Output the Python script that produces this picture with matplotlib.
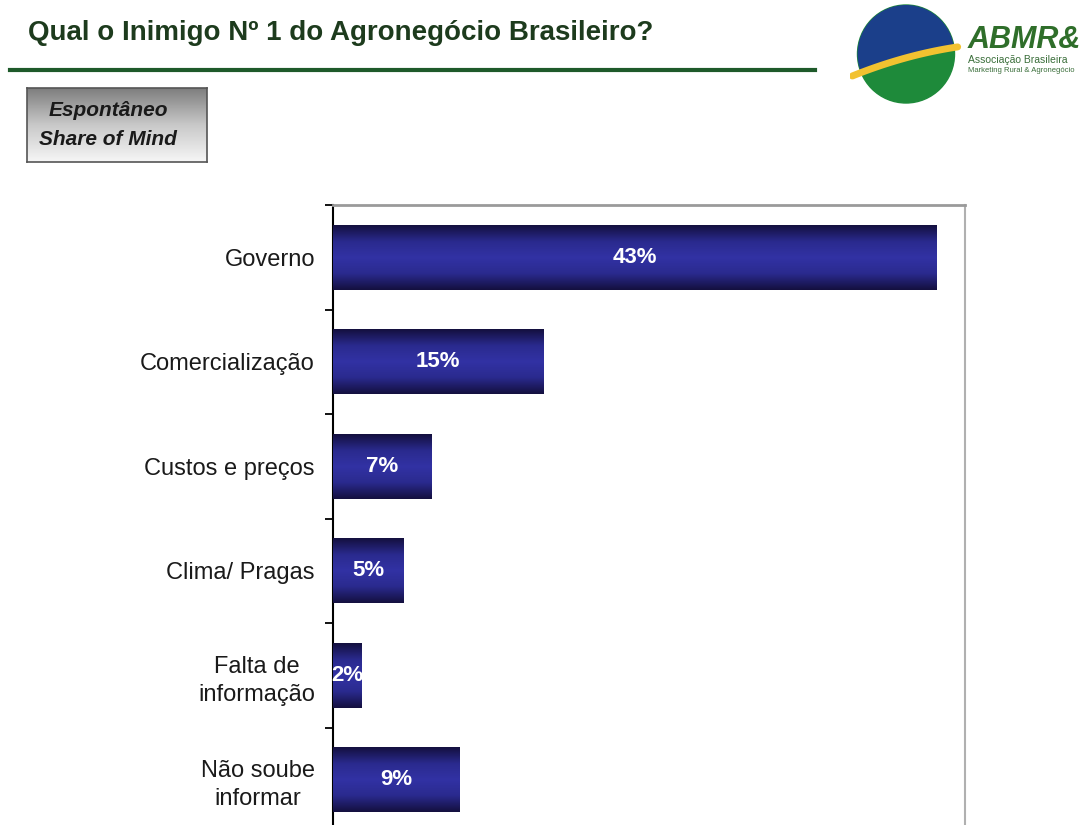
import matplotlib.pyplot as plt
import numpy as np
from matplotlib.patches import Ellipse, Polygon
from matplotlib.colors import LinearSegmentedColormap

plt.rcParams['font.family'] = ['Liberation Sans', 'DejaVu Sans']

categorias = ['Governo', 'Comercialização', 'Custos e preços', 'Clima/ Pragas',
              'Falta de\ninformação', 'Não soube\ninformar']
valores = [43, 15, 7, 5, 2, 9]
rotulos = ['43%', '15%', '7%', '5%', '2%', '9%']

fig = plt.figure(figsize=(10.83, 8.25), dpi=100)
fig.patch.set_facecolor('white')

# titulo e linha verde
fig.text(28/1083, 1-33/825, 'Qual o Inimigo Nº 1 do Agronegócio Brasileiro?',
         fontsize=20, fontweight='bold', color='#1d3b1d', va='center', ha='left')
fig.add_artist(plt.Line2D([10/1083, 815/1083], [1-70/825, 1-70/825],
                          color='#1e5a2a', linewidth=3))

# caixa "Espontâneo"
bx = fig.add_axes([27/1083, 1-162/825, 180/1083, 74/825])
grad = np.linspace(0, 1, 100).reshape(-1, 1)
cm_gray = LinearSegmentedColormap.from_list('g', ['#7c7c7c', '#c8c8c8', '#f6f6f6'])
bx.imshow(grad, aspect='auto', cmap=cm_gray, extent=[0, 1, 0, 1])
bx.set_xlim(0, 1); bx.set_ylim(0, 1)
bx.set_xticks([]); bx.set_yticks([])
for s in bx.spines.values():
    s.set_color('#555555'); s.set_linewidth(1.2)
bx.text(0.45, 0.70, 'Espontâneo', fontsize=15, style='italic', fontweight='bold',
        color='#1a1a1a', va='center', ha='center')
bx.text(0.45, 0.30, 'Share of Mind', fontsize=15, style='italic', fontweight='bold',
        color='#1a1a1a', va='center', ha='center')

# logo (aproximado)
lx = fig.add_axes([850/1083, 1-108/825, 233/1083, 108/825])
lx.set_xlim(850, 1083); lx.set_ylim(108, 0)
lx.axis('off')
circ = Ellipse((906, 54), 97, 98, color='#1e8a3a')
lx.add_patch(circ)
cx = np.linspace(845, 965, 50)
cy = 80 - (cx - 845) * 0.42 + 0.0012 * (cx - 845) ** 2 - 4
azul = Polygon(np.column_stack([np.r_[cx, 965, 845], np.r_[cy, 0, 0]]), color='#1b3f8a')
lx.add_patch(azul)
azul.set_clip_path(circ)
lx.plot(cx[3:47], cy[3:47] + 3, color='#f2c230', lw=5, solid_capstyle='round')
lx.text(968, 40, 'ABMR&', fontsize=22, fontweight='bold', style='italic',
        color='#2f6e2a', va='center', ha='left', clip_on=False)
lx.text(968, 60, 'Associação Brasileira', fontsize=7.5, color='#3a6e3a', va='center')
lx.text(968, 71, 'Marketing Rural & Agronegócio', fontsize=5.5, color='#3a6e3a', va='center')

# grafico
ax = fig.add_axes([333/1083, 1-832/825, 632/1083, 627/825])
y = np.arange(len(categorias))
barras = ax.barh(y, valores, height=0.62, color='#24247a', edgecolor='none', zorder=2)

cm_bar = LinearSegmentedColormap.from_list('b', ['#141040', '#2a2a8e', '#3232a4', '#2a2a8e', '#141040'])
gv = np.linspace(0, 1, 64).reshape(-1, 1)
for b, r in zip(barras, rotulos):
    x0, y0, w, h = b.get_x(), b.get_y(), b.get_width(), b.get_height()
    im = ax.imshow(gv, aspect='auto', cmap=cm_bar, extent=[x0, x0 + w, y0 + h, y0], zorder=3)
    im.set_clip_path(b)
    t = ax.text(x0 + w/2, y0 + h/2, r, color='white', fontsize=16, fontweight='bold',
                ha='center', va='center', zorder=4)
    t.set_clip_path(b)
ax.set_xlim(0, 45)
ax.set_ylim(len(categorias) - 0.5, -0.5)

ax.set_yticks(np.arange(len(categorias) + 1) - 0.5)
ax.set_yticklabels([])
ax.set_yticks(y, minor=True)
ax.set_yticklabels(categorias, minor=True, fontsize=17, color='#1a1a1a')
for lab in ax.get_yticklabels(minor=True):
    lab.set_multialignment('center')
    lab.set_linespacing(1.35)
ax.tick_params(axis='y', which='major', length=6, width=1.3, direction='out')
ax.tick_params(axis='y', which='minor', length=0, pad=13)
ax.set_xticks([])

ax.spines['left'].set_color('black')
ax.spines['left'].set_linewidth(1.5)
ax.spines['top'].set_color('#9a9a9a')
ax.spines['top'].set_linewidth(2)
ax.spines['right'].set_color('#b0b0b0')
ax.spines['right'].set_linewidth(1.5)
ax.spines['bottom'].set_visible(False)

fig.savefig('out.png', dpi=100)
